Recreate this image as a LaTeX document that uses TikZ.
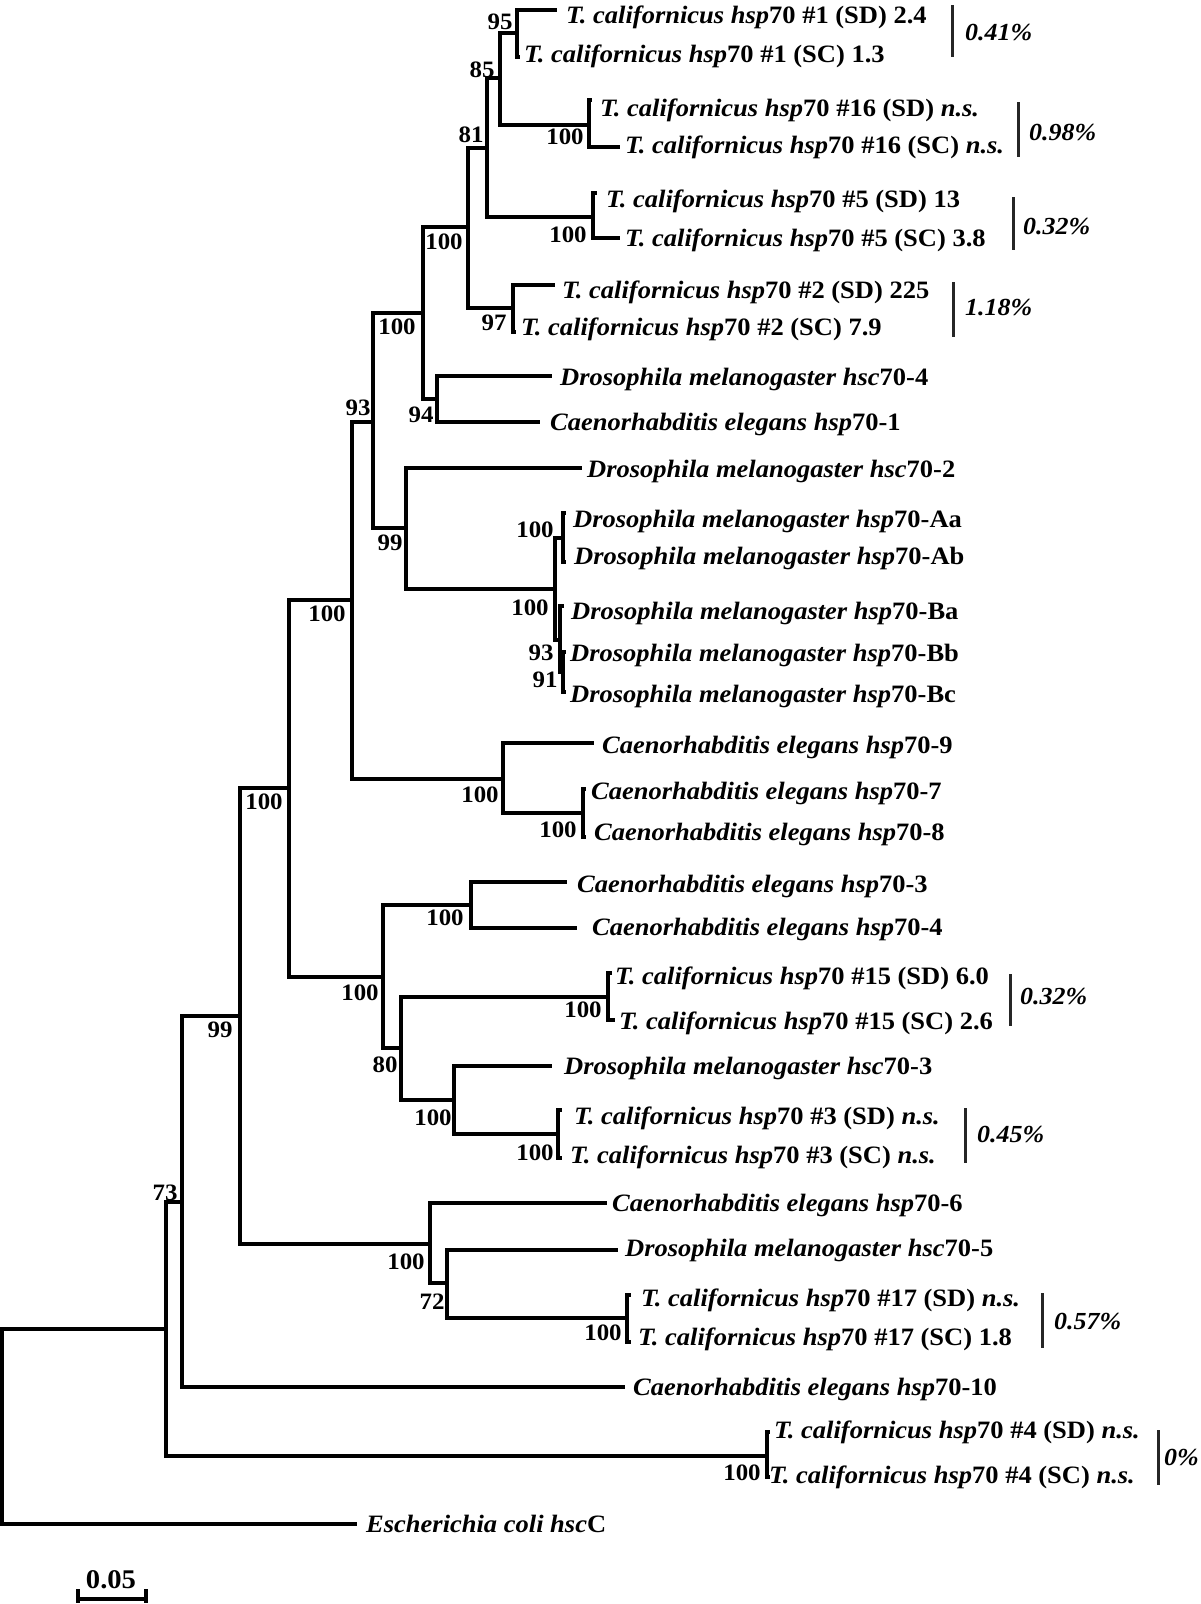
\documentclass[tikz,border=0pt]{standalone}
\usepackage{fontspec}
\setmainfont{Liberation Serif}[FakeStretch=1.06]
\newcommand{\tcal}[1]{\textit{T. californicus hsp}70 #1}
\newcommand{\dmel}[2]{\textit{Drosophila melanogaster #1}#2}
\newcommand{\cel}[1]{\textit{Caenorhabditis elegans hsp}70-#1}
\newcommand{\ns}{\textit{n.s.}}
\tikzset{
  branch/.style ={line width=3.2pt, draw=black},
  divbar/.style ={line width=3pt, draw=black!85},
  taxon/.style  ={anchor=base west, inner sep=0pt, yshift=-1pt, font=\fontsize{25}{27}\selectfont\bfseries},
  boot/.style   ={inner sep=0pt, font=\fontsize{23.5}{25}\selectfont\bfseries},
  divlbl/.style ={anchor=west, inner sep=0pt, font=\fontsize{24.5}{26}\selectfont\bfseries\itshape},
}
\begin{document}
\begin{tikzpicture}[x=1pt, y=-1pt]
\useasboundingbox (0,0) rectangle (1200,1604);
% internal nodes
\coordinate (root) at (2,1426);
\coordinate (n73) at (166,1329);
\coordinate (n182) at (182,1202);
\coordinate (n99) at (240,1016);
\coordinate (nC) at (289,788);
\coordinate (nP) at (352,600);
\coordinate (n93) at (373,422);
\coordinate (nHi) at (423,313);
\coordinate (nTc) at (468,227);
\coordinate (n81) at (487,148);
\coordinate (n85) at (500,78);
\coordinate (n95) at (517,33);
\coordinate (n16) at (589,125);
\coordinate (n5) at (593,217);
\coordinate (n97) at (513,308);
\coordinate (n94) at (437,399);
\coordinate (nDm) at (406,528);
\coordinate (nDmH) at (555,589);
\coordinate (nDmA) at (563,538);
\coordinate (nDmB) at (560,640);
\coordinate (n91) at (563,672);
\coordinate (nCe9) at (503,779);
\coordinate (nCe78) at (583,813);
\coordinate (nQ) at (383,977);
\coordinate (nCe34) at (471,905);
\coordinate (n80) at (401,1048);
\coordinate (n15) at (608,997);
\coordinate (nDm3) at (454,1100);
\coordinate (n3) at (558,1134);
\coordinate (nLo) at (430,1244);
\coordinate (n72) at (447,1283);
\coordinate (n17) at (627,1318);
\coordinate (n4) at (767,1456);
% tip ends
\coordinate (t1) at (557,10);
\coordinate (t2) at (520,57);
\coordinate (t3) at (592,100);
\coordinate (t4) at (620,147);
\coordinate (t5) at (597,193);
\coordinate (t6) at (620,238);
\coordinate (t7) at (555,285);
\coordinate (t8) at (516,332);
\coordinate (t9) at (552,376);
\coordinate (t10) at (540,422);
\coordinate (t11) at (582,468);
\coordinate (t12) at (566,513);
\coordinate (t13) at (566,562);
\coordinate (t14) at (564,606);
\coordinate (t15) at (566,652);
\coordinate (t16) at (566,692);
\coordinate (t17) at (594,743);
\coordinate (t18) at (586,789);
\coordinate (t19) at (586,837);
\coordinate (t20) at (567,882);
\coordinate (t21) at (577,928);
\coordinate (t22) at (612,973);
\coordinate (t23) at (615,1020);
\coordinate (t24) at (552,1066);
\coordinate (t25) at (562,1110);
\coordinate (t26) at (562,1158);
\coordinate (t27) at (607,1203);
\coordinate (t28) at (618,1250);
\coordinate (t29) at (631,1295);
\coordinate (t30) at (631,1342);
\coordinate (t31) at (625,1387);
\coordinate (t32) at (770,1432);
\coordinate (t33) at (770,1477);
\coordinate (t34) at (357,1524);

% branches
\draw[branch] (root) |- (n73);
\draw[branch] (root) |- (t34);
\draw[branch] (n73) |- (n182);
\draw[branch] (n73) |- (n4);
\draw[branch] (n182) |- (n99);
\draw[branch] (n182) |- (t31);
\draw[branch] (n99) |- (nC);
\draw[branch] (n99) |- (nLo);
\draw[branch] (nC) |- (nP);
\draw[branch] (nC) |- (nQ);
\draw[branch] (nP) |- (n93);
\draw[branch] (nP) |- (nCe9);
\draw[branch] (n93) |- (nHi);
\draw[branch] (n93) |- (nDm);
\draw[branch] (nHi) |- (nTc);
\draw[branch] (nHi) |- (n94);
\draw[branch] (nTc) |- (n81);
\draw[branch] (nTc) |- (n97);
\draw[branch] (n81) |- (n85);
\draw[branch] (n81) |- (n5);
\draw[branch] (n85) |- (n95);
\draw[branch] (n85) |- (n16);
\draw[branch] (n95) |- (t1);
\draw[branch] (n95) |- (t2);
\draw[branch] (n16) |- (t3);
\draw[branch] (n16) |- (t4);
\draw[branch] (n5) |- (t5);
\draw[branch] (n5) |- (t6);
\draw[branch] (n97) |- (t7);
\draw[branch] (n97) |- (t8);
\draw[branch] (n94) |- (t9);
\draw[branch] (n94) |- (t10);
\draw[branch] (nDm) |- (t11);
\draw[branch] (nDm) |- (nDmH);
\draw[branch] (nDmH) |- (nDmA);
\draw[branch] (nDmH) |- (nDmB);
\draw[branch] (nDmA) |- (t12);
\draw[branch] (nDmA) |- (t13);
\draw[branch] (nDmB) |- (t14);
\draw[branch] (nDmB) |- (n91);
\draw[branch] (n91) |- (t15);
\draw[branch] (n91) |- (t16);
\draw[branch] (nCe9) |- (t17);
\draw[branch] (nCe9) |- (nCe78);
\draw[branch] (nCe78) |- (t18);
\draw[branch] (nCe78) |- (t19);
\draw[branch] (nQ) |- (nCe34);
\draw[branch] (nQ) |- (n80);
\draw[branch] (nCe34) |- (t20);
\draw[branch] (nCe34) |- (t21);
\draw[branch] (n80) |- (n15);
\draw[branch] (n80) |- (nDm3);
\draw[branch] (n15) |- (t22);
\draw[branch] (n15) |- (t23);
\draw[branch] (nDm3) |- (t24);
\draw[branch] (nDm3) |- (n3);
\draw[branch] (n3) |- (t25);
\draw[branch] (n3) |- (t26);
\draw[branch] (nLo) |- (t27);
\draw[branch] (nLo) |- (n72);
\draw[branch] (n72) |- (t28);
\draw[branch] (n72) |- (n17);
\draw[branch] (n17) |- (t29);
\draw[branch] (n17) |- (t30);
\draw[branch] (n4) |- (t32);
\draw[branch] (n4) |- (t33);

% taxa
\node[taxon] (l1) at (566,22) {\tcal{\#1 (SD) 2.4}};
\node[taxon] (l2) at (524,61) {\tcal{\#1 (SC) 1.3}};
\node[taxon] (l3) at (600,115) {\tcal{\#16 (SD) \ns}};
\node[taxon] (l4) at (625,152) {\tcal{\#16 (SC) \ns}};
\node[taxon] (l5) at (606,206) {\tcal{\#5 (SD) 13}};
\node[taxon] (l6) at (625,245) {\tcal{\#5 (SC) 3.8}};
\node[taxon] (l7) at (562,297) {\tcal{\#2 (SD) 225}};
\node[taxon] (l8) at (521,334) {\tcal{\#2 (SC) 7.9}};
\node[taxon] (l9) at (560,384) {\dmel{hsc}{70-4}};
\node[taxon] (l10) at (550,429) {\cel{1}};
\node[taxon] (l11) at (587,476) {\dmel{hsc}{70-2}};
\node[taxon] (l12) at (573,526) {\dmel{hsp}{70-Aa}};
\node[taxon] (l13) at (574,563) {\dmel{hsp}{70-Ab}};
\node[taxon] (l14) at (571,618) {\dmel{hsp}{70-Ba}};
\node[taxon] (l15) at (570,660) {\dmel{hsp}{70-Bb}};
\node[taxon] (l16) at (570,701) {\dmel{hsp}{70-Bc}};
\node[taxon] (l17) at (602,752) {\cel{9}};
\node[taxon] (l18) at (591,798) {\cel{7}};
\node[taxon] (l19) at (594,839) {\cel{8}};
\node[taxon] (l20) at (577,891) {\cel{3}};
\node[taxon] (l21) at (592,934) {\cel{4}};
\node[taxon] (l22) at (615,983) {\tcal{\#15 (SD) 6.0}};
\node[taxon] (l23) at (619,1028) {\tcal{\#15 (SC) 2.6}};
\node[taxon] (l24) at (564,1073) {\dmel{hsc}{70-3}};
\node[taxon] (l25) at (574,1123) {\tcal{\#3 (SD) \ns}};
\node[taxon] (l26) at (570,1162) {\tcal{\#3 (SC) \ns}};
\node[taxon] (l27) at (612,1210) {\cel{6}};
\node[taxon] (l28) at (625,1255) {\dmel{hsc}{70-5}};
\node[taxon] (l29) at (641,1305) {\tcal{\#17 (SD) \ns}};
\node[taxon] (l30) at (638,1344) {\tcal{\#17 (SC) 1.8}};
\node[taxon] (l31) at (633,1394) {\cel{10}};
\node[taxon] (l32) at (774,1437) {\tcal{\#4 (SD) \ns}};
\node[taxon] (l33) at (769,1482) {\tcal{\#4 (SC) \ns}};
\node[taxon] (l34) at (366,1531) {\textit{Escherichia coli hsc}C};

% bootstrap values
\node[boot] (b1) at (500,22) {95};
\node[boot] (b2) at (482,70) {85};
\node[boot] (b3) at (565,137) {100};
\node[boot] (b4) at (471,135) {81};
\node[boot] (b5) at (568,235) {100};
\node[boot] (b6) at (444,242) {100};
\node[boot] (b7) at (494,323) {97};
\node[boot] (b8) at (397,327) {100};
\node[boot] (b9) at (421,415) {94};
\node[boot] (b10) at (358,408) {93};
\node[boot] (b11) at (390,543) {99};
\node[boot] (b12) at (535,530) {100};
\node[boot] (b13) at (530,608) {100};
\node[boot] (b14) at (541,653) {93};
\node[boot] (b15) at (545,680) {91};
\node[boot] (b16) at (327,614) {100};
\node[boot] (b17) at (480,795) {100};
\node[boot] (b18) at (558,830) {100};
\node[boot] (b19) at (264,802) {100};
\node[boot] (b20) at (360,993) {100};
\node[boot] (b21) at (445,918) {100};
\node[boot] (b22) at (385,1065) {80};
\node[boot] (b23) at (583,1010) {100};
\node[boot] (b24) at (433,1118) {100};
\node[boot] (b25) at (535,1153) {100};
\node[boot] (b26) at (220,1030) {99};
\node[boot] (b27) at (406,1262) {100};
\node[boot] (b28) at (432,1302) {72};
\node[boot] (b29) at (603,1333) {100};
\node[boot] (b30) at (165,1193) {73};
\node[boot] (b31) at (742,1473) {100};

% divergence between SD and SC
\draw[divbar] (952,5) -- (952,57);
\node[divlbl] (d1) at (965,33) {0.41\%};
\draw[divbar] (1018,102) -- (1018,157);
\node[divlbl] (d2) at (1029,133) {0.98\%};
\draw[divbar] (1013,197) -- (1013,250);
\node[divlbl] (d3) at (1023,227) {0.32\%};
\draw[divbar] (953,282) -- (953,337);
\node[divlbl] (d4) at (965,308) {1.18\%};
\draw[divbar] (1010,974) -- (1010,1026);
\node[divlbl] (d5) at (1020,997) {0.32\%};
\draw[divbar] (965,1108) -- (965,1163);
\node[divlbl] (d6) at (977,1135) {0.45\%};
\draw[divbar] (1042,1293) -- (1042,1348);
\node[divlbl] (d7) at (1054,1322) {0.57\%};
\draw[divbar] (1158,1430) -- (1158,1485);
\node[divlbl] (d8) at (1164,1457) {0\%};

% scale bar
\coordinate (sbL) at (78,1599);
\coordinate (sbR) at (146,1599);
\draw[branch] (sbL) -- (sbR);
\draw[branch] ([yshift=10pt]sbL) -- ([yshift=-4pt]sbL);
\draw[branch] ([yshift=10pt]sbR) -- ([yshift=-4pt]sbR);
\node[boot, font=\fontsize{27}{28}\selectfont\bfseries] (sb) at (111,1580) {0.05};
\end{tikzpicture}
\end{document}
